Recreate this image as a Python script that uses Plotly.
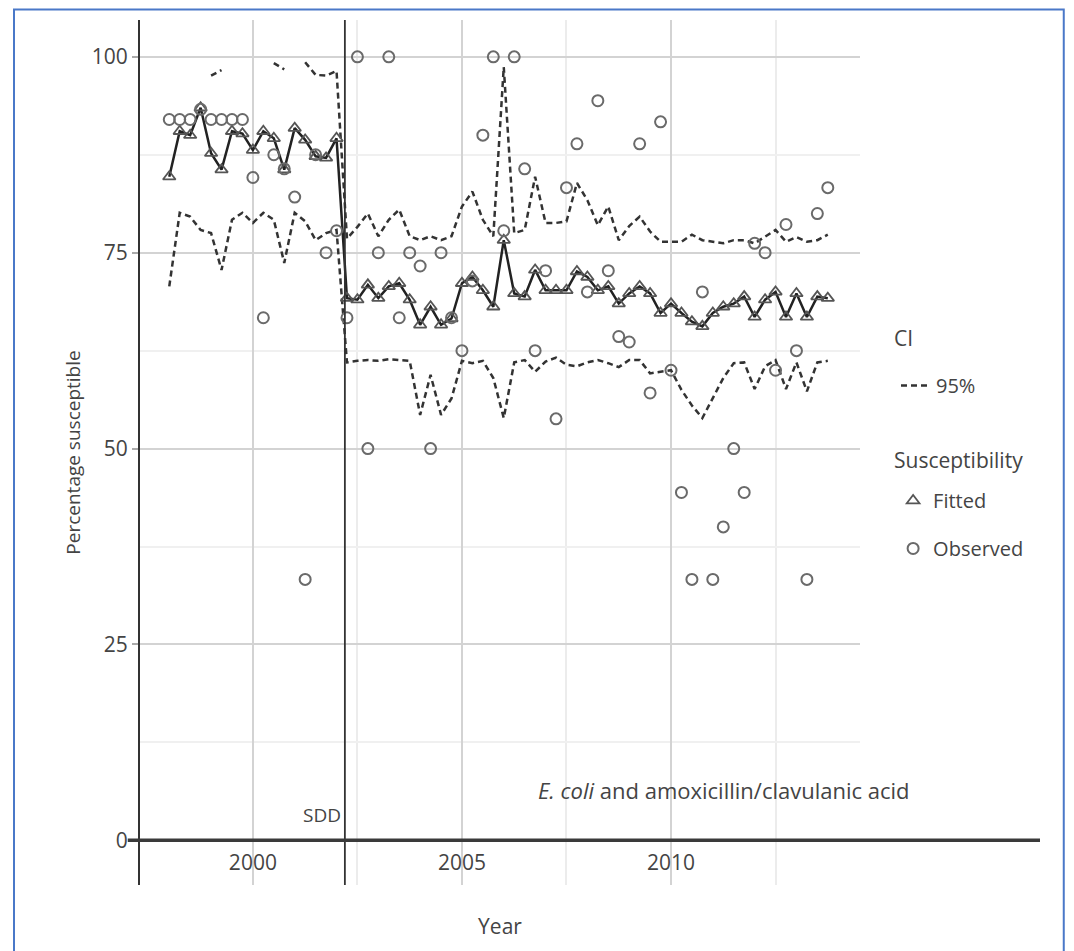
import plotly.graph_objects as go

# ---- data (quarterly, 1998 Q1 .. 2013 Q4) ----
quarters = [
    1998.0, 1998.25, 1998.5, 1998.75, 1999.0, 1999.25, 1999.5, 1999.75,
    2000.0, 2000.25, 2000.5, 2000.75, 2001.0, 2001.25, 2001.5, 2001.75,
    2002.0, 2002.25, 2002.5, 2002.75, 2003.0, 2003.25, 2003.5, 2003.75,
    2004.0, 2004.25, 2004.5, 2004.75, 2005.0, 2005.25, 2005.5, 2005.75,
    2006.0, 2006.25, 2006.5, 2006.75, 2007.0, 2007.25, 2007.5, 2007.75,
    2008.0, 2008.25, 2008.5, 2008.75, 2009.0, 2009.25, 2009.5, 2009.75,
    2010.0, 2010.25, 2010.5, 2010.75, 2011.0, 2011.25, 2011.5, 2011.75,
    2012.0, 2012.25, 2012.5, 2012.75, 2013.0, 2013.25, 2013.5, 2013.75,
]

observed = [
    92.0, 92.0, 92.0, 93.3, 92.0, 92.0, 92.0, 92.0,
    84.6, 66.7, 87.5, 85.7, 82.1, 33.3, 87.5, 75.0,
    77.8, 66.7, 100.0, 50.0, 75.0, 100.0, 66.7, 75.0,
    73.3, 50.0, 75.0, 66.7, 62.5, 71.4, 90.0, 100.0,
    77.8, 100.0, 85.7, 62.5, 72.7, 53.8, 83.3, 88.9,
    70.0, 94.4, 72.7, 64.3, 63.6, 88.9, 57.1, 91.7,
    60.0, 44.4, 33.3, 70.0, 33.3, 40.0, 50.0, 44.4,
    76.2, 75.0, 60.0, 78.6, 62.5, 33.3, 80.0, 83.3,
]

fitted = [
    84.7, 90.5, 90.0, 93.5, 87.7, 85.6, 90.5, 90.2,
    88.1, 90.5, 89.6, 85.6, 90.9, 89.4, 87.3, 87.1,
    89.6, 69.2, 69.0, 70.9, 69.2, 70.7, 71.1, 69.0,
    65.8, 68.1, 65.8, 66.6, 71.1, 71.9, 70.2, 68.1,
    76.6, 69.8, 69.4, 72.8, 70.2, 70.2, 70.2, 72.6,
    71.9, 70.2, 70.7, 68.5, 69.8, 70.7, 69.8, 67.3,
    68.5, 67.3, 66.2, 65.6, 67.3, 68.1, 68.5, 69.4,
    66.8, 69.0, 70.0, 66.8, 69.8, 66.8, 69.4, 69.2,
]

ci_lower = [
    70.7, 80.1, 79.6, 77.9, 77.5, 72.8, 79.2, 80.1,
    78.8, 80.1, 79.2, 73.7, 80.1, 79.0, 76.6, 77.5,
    77.9, 61.0, 61.2, 61.3, 61.2, 61.4, 61.3, 61.2,
    54.3, 59.4, 54.3, 56.4, 61.2, 60.9, 61.2, 59.0,
    53.9, 61.0, 61.3, 59.8, 61.1, 61.6, 60.7, 60.5,
    61.0, 61.3, 60.9, 60.4, 61.3, 61.3, 59.6, 59.8,
    60.0, 57.5, 55.5, 53.9, 56.5, 59.0, 60.9, 61.0,
    57.6, 60.5, 61.3, 57.6, 61.0, 57.3, 61.0, 61.2,
]

# values above 100 fall outside the axis limits and are not drawn (None)
ci_upper = [
    None, None, None, None, 97.6, 98.3, None, None,
    None, None, 99.2, 98.4, None, 99.3, 97.7, 97.6,
    98.2, 76.8, 78.3, 80.0, 77.1, 79.2, 80.5, 77.1,
    76.6, 77.1, 76.6, 77.1, 80.9, 82.8, 79.2, 77.1,
    98.7, 77.5, 77.9, 84.7, 78.8, 78.8, 79.0, 83.9,
    81.7, 78.5, 80.9, 76.6, 78.4, 79.6, 77.7, 76.4,
    76.4, 76.4, 77.3, 76.6, 76.4, 76.2, 76.6, 76.6,
    76.2, 77.0, 77.9, 76.4, 77.0, 76.4, 76.6, 77.3,
]

x_ticks = [2000, 2005, 2010]
x_minor = [2002.5, 2007.5, 2012.5]
y_ticks = [0, 25, 50, 75, 100]
y_minor = [12.5, 37.5, 62.5, 87.5]
sdd_year = 2002.2

FONT = "Open Sans"
TXT = "#444444"

fig = go.Figure()

fig.add_trace(go.Scatter(
    x=quarters, y=ci_lower, mode="lines", name="95%",
    line=dict(color="#333333", width=2.5, dash="6px,4px"),
    legend="legend", showlegend=True, hoverinfo="skip",
))
fig.add_trace(go.Scatter(
    x=quarters, y=ci_upper, mode="lines", name="95% upper",
    line=dict(color="#333333", width=2.5, dash="6px,4px"),
    legend="legend", showlegend=False, connectgaps=False, hoverinfo="skip",
))
fig.add_trace(go.Scatter(
    x=quarters, y=fitted, mode="lines", name="Fitted line",
    line=dict(color="#222222", width=2.5), showlegend=False,
))
fig.add_trace(go.Scatter(
    x=quarters, y=fitted, mode="markers", name="Fitted",
    marker=dict(symbol="triangle-up-open", size=11, color="#555555",
                line=dict(width=1.8)),
    legend="legend2",
))
fig.add_trace(go.Scatter(
    x=quarters, y=observed, mode="markers", name="Observed",
    marker=dict(symbol="circle-open", size=11, color="#6a6a6a",
                line=dict(width=2)),
    legend="legend3",
))

# SDD intervention line
fig.add_shape(type="line", x0=sdd_year, x1=sdd_year, xref="x",
              y0=0, y1=1, yref="paper",
              line=dict(color="#333333", width=1.8), layer="above")
# heavy zero line extending to the right
fig.add_shape(type="line", x0=-0.017, x1=1.25, xref="paper",
              y0=0, y1=0, yref="y",
              line=dict(color="#3a3a3a", width=3.5), layer="above")
# outer blue frame
fig.add_shape(type="rect", x0=-0.175, x1=1.283, xref="paper",
              y0=-0.1, y1=1.012, yref="paper",
              line=dict(color="#4a78c8", width=2), fillcolor="rgba(0,0,0,0)",
              layer="above")

fig.add_annotation(x=sdd_year, y=0, xref="x", yref="y", xanchor="right",
                   yanchor="bottom", yshift=10, xshift=-2, text="SDD",
                   showarrow=False, font=dict(family=FONT, size=19, color=TXT))
fig.add_annotation(x=2011.27, y=6.4, xref="x", yref="y", xanchor="center",
                   yanchor="middle",
                   text="<i>E. coli</i> and amoxicillin/clavulanic acid",
                   showarrow=False, font=dict(family=FONT, size=22, color=TXT))

# legend group headings
fig.add_annotation(x=(892 - 140) / 720, y=(885 - 338) / 865, xref="paper",
                   yref="paper", xanchor="left", yanchor="middle", text="CI",
                   showarrow=False, font=dict(family=FONT, size=21, color=TXT))
fig.add_annotation(x=(892 - 140) / 720, y=(885 - 460) / 865, xref="paper",
                   yref="paper", xanchor="left", yanchor="middle",
                   text="Susceptibility", showarrow=False,
                   font=dict(family=FONT, size=21, color=TXT))

legend_common = dict(
    bgcolor="rgba(0,0,0,0)", borderwidth=0,
    font=dict(family=FONT, size=20, color=TXT),
    xanchor="left", yanchor="top",
)

fig.update_layout(
    width=1066, height=943,
    margin=dict(l=132, r=214, t=12, b=66),
    paper_bgcolor="white", plot_bgcolor="white",
    font=dict(family=FONT, size=19, color=TXT),
    xaxis=dict(
        range=[1997.3, 2014.52], anchor="free", position=0.043,
        tickmode="array", tickvals=x_ticks, ticks="", showline=False,
        zeroline=False, showgrid=True, gridcolor="#d3d3d3", gridwidth=2,
        minor=dict(tickmode="array", tickvals=x_minor, showgrid=True,
                   gridcolor="#ececec", gridwidth=2, ticks=""),
        tickfont=dict(family=FONT, size=21, color=TXT),
        title=dict(text="Year", font=dict(family=FONT, size=21, color=TXT),
                   standoff=44),
        automargin=False,
    ),
    yaxis=dict(
        range=[-5.7, 104.7], tickmode="array", tickvals=y_ticks,
        ticks="outside", ticklen=6, tickcolor="#aaaaaa", tickwidth=1.5,
        showline=True, linecolor="#333333", linewidth=2,
        zeroline=False, showgrid=True, gridcolor="#d3d3d3", gridwidth=2,
        minor=dict(tickmode="array", tickvals=y_minor, showgrid=True,
                   gridcolor="#f0f0f0", gridwidth=1.5, ticks=""),
        tickfont=dict(family=FONT, size=21, color=TXT),
        title=dict(text="Percentage susceptible",
                   font=dict(family=FONT, size=19, color=TXT), standoff=6),
        automargin=False,
    ),
    legend=dict(x=1.05, y=0.600, **legend_common),
    legend2=dict(x=1.046, y=0.467, **legend_common),
    legend3=dict(x=1.046, y=0.4116, **legend_common),
)

fig.write_html("out.html")
